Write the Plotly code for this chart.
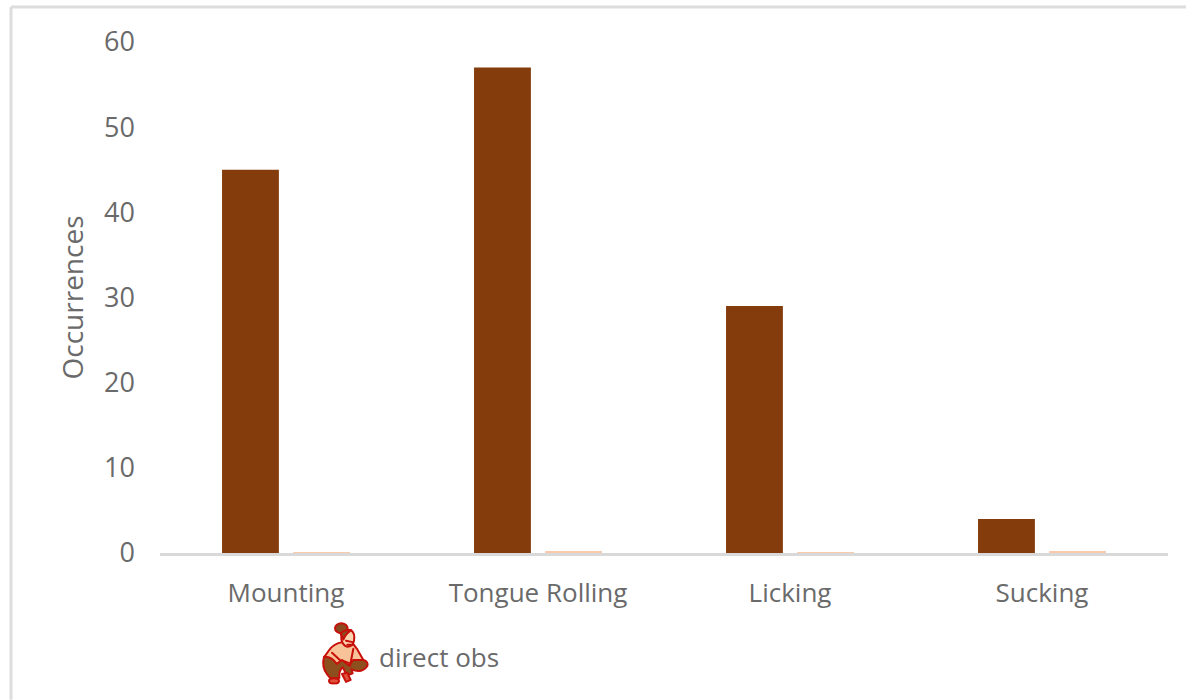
import base64
import plotly.graph_objects as go

categories = ["Mounting", "Tongue Rolling", "Licking", "Sucking"]
direct_obs = [45, 57, 29, 4]
other_series = [0.06, 0.12, 0.06, 0.12]
y_ticks = [0, 10, 20, 30, 40, 50, 60]
y_title = "Occurrences"
legend_label = "direct obs"

W, H = 1186, 700
L, R, T, B = 160, 1168, 41.5, 553
GREY = "#6A6A6A"
FONT = "Open Sans"


def px(x):
    return (x - L) / (R - L)


def py(y):
    return (B - y) / (B - T)


icon_svg = """<svg xmlns="http://www.w3.org/2000/svg" viewBox="60 35 150 190" width="150" height="190">
<g stroke="#C8100A" stroke-width="6" stroke-linejoin="round" stroke-linecap="round">
<path d="M128 96 Q100 100 86 122 L72 142 L108 162 L128 152 L150 160 L190 150 L172 118 L160 102 Q146 112 128 96 Z" fill="#F9C39A"/>
<path d="M72 140 Q64 172 82 194 L92 206 L118 204 Q116 182 128 172 Q136 184 138 198 L158 190 L154 178 Q186 192 202 168 Q206 154 190 150 L160 150 L146 166 L126 150 L110 162 Q96 138 72 140 Z" fill="#8E4F1E"/>
<ellipse cx="102" cy="213" rx="15" ry="8" fill="#E0503C"/>
<path d="M126 192 L138 216 L152 210 L142 188 Z" fill="#E0503C"/>
<path d="M124 70 Q134 58 152 60 Q166 68 162 92 Q158 110 142 110 Q128 106 124 88 Z" fill="#FBD3B0"/>
<path d="M138 92 L158 96 M142 104 L156 104" fill="none"/>
<ellipse cx="124" cy="54" rx="19" ry="15" fill="#8B4A20"/>
<path d="M122 70 Q134 56 154 60 Q138 70 130 88 Z" fill="#8B4A20"/>
<path d="M96 128 L122 152 M160 116 L150 168" fill="none"/>
</g></svg>"""
icon_uri = "data:image/svg+xml;base64," + base64.b64encode(icon_svg.encode()).decode()

fig = go.Figure()
fig.add_bar(x=categories, y=direct_obs, name=legend_label, marker=dict(color="#843C0C", line=dict(width=0)))
fig.add_bar(x=categories, y=other_series, name="other", marker=dict(color="#F8CBAD", line=dict(width=0)))

fig.update_layout(
    width=W, height=H, autosize=False,
    barmode="group", bargap=0.436, bargroupgap=0.2,
    showlegend=False,
    paper_bgcolor="white", plot_bgcolor="white",
    margin=dict(l=L, r=W - R, t=T, b=H - B, pad=0),
    font=dict(family=FONT, size=26, color=GREY),
    xaxis=dict(
        showgrid=False, showline=True, linecolor="#D9D9D9", linewidth=3,
        ticks="", ticklen=0, ticklabelstandoff=15,
        tickfont=dict(size=26, color=GREY, family=FONT), zeroline=False,
    ),
    yaxis=dict(
        range=[0, 60], tickvals=y_ticks, showgrid=False, zeroline=False, showline=False,
        ticks="", ticklabelstandoff=24, tickfont=dict(size=27, color=GREY, family=FONT),
        title=dict(text=y_title, font=dict(size=28, color=GREY, family=FONT), standoff=12),
    ),
    shapes=[
        dict(type="line", xref="paper", yref="paper", x0=px(11), x1=px(1186), y0=py(6.5), y1=py(6.5),
             line=dict(color="#DDDDDD", width=3)),
        dict(type="line", xref="paper", yref="paper", x0=px(11), x1=px(11), y0=py(6.5), y1=py(700),
             line=dict(color="#DDDDDD", width=3)),
    ],
    images=[dict(source=icon_uri, xref="paper", yref="paper", x=px(320), y=py(622),
                 sizex=50 / (R - L), sizey=63 / (B - T), sizing="stretch",
                 xanchor="left", yanchor="top", layer="above")],
    annotations=[dict(text=legend_label, xref="paper", yref="paper", x=px(377), y=py(657),
                      xanchor="left", yanchor="middle", showarrow=False,
                      font=dict(size=26, color=GREY, family=FONT))],
)

# remove the page's default body margin so the figure fills the 1186x700 window exactly
fig.write_html(
    "out.html",
    config={"displayModeBar": False},
    post_script="document.body.style.margin='0';document.body.style.overflow='hidden';",
)
